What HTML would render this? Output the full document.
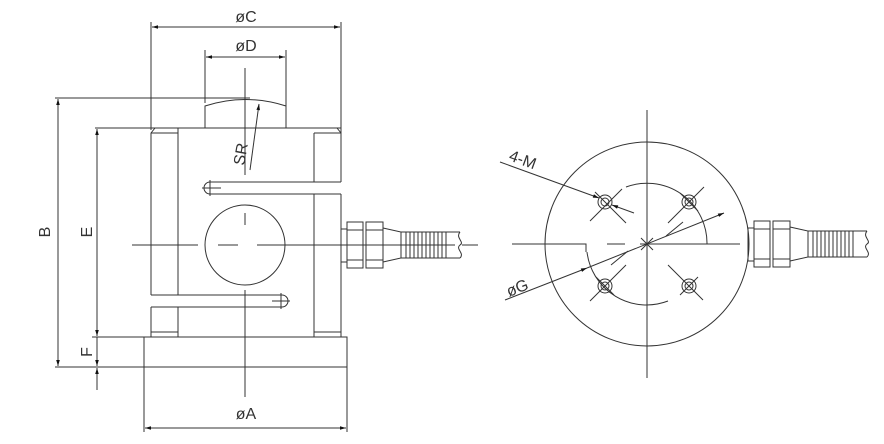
<!DOCTYPE html>
<html><head><meta charset="utf-8"><style>
html,body{margin:0;padding:0;background:#fff;}
svg{display:block}
text{font-family:"Liberation Sans",sans-serif;fill:#333;font-size:16px}
</style></head><body>
<svg width="884" height="444" viewBox="0 0 884 444" xmlns="http://www.w3.org/2000/svg">
<defs>
<marker id="a" viewBox="0 0 10 10" refX="10" refY="5" markerWidth="9" markerHeight="6" orient="auto-start-reverse" markerUnits="userSpaceOnUse"><path d="M0,2 L10,5 L0,8z" fill="#111"/></marker>
<g id="conn" fill="none" stroke="#333" stroke-width="1">
<rect x="0" y="7" width="6" height="33"/>
<rect x="6" y="0" width="16" height="46"/>
<line x1="6" y1="8" x2="22" y2="8"/><line x1="6" y1="38" x2="22" y2="38"/>
<rect x="25" y="0" width="17" height="46"/>
<line x1="25" y1="8" x2="42" y2="8"/><line x1="25" y1="38" x2="42" y2="38"/>
<path d="M42,6 L60,10 L60,36 L42,40"/>
<line x1="60" y1="10" x2="119" y2="10"/><line x1="60" y1="36" x2="119" y2="36"/>
<path d="M65,10V36M69,10V36M73,10V36M77,10V36M81,10V36M85,10V36M89,10V36M93,10V36M97,10V36M101,10V36M105,10V36"/>
<path d="M119,10 C114,16 124,20 119,23 C114,27 124,31 119,36"/>
</g>
</defs>
<g fill="none" stroke="#333" stroke-width="1">
<line x1="151" y1="22" x2="151" y2="130"/><line x1="341" y1="22" x2="341" y2="130"/>
<line x1="152" y1="27" x2="340" y2="27" marker-start="url(#a)" marker-end="url(#a)"/>
<line x1="205" y1="50" x2="205" y2="103"/><line x1="286" y1="50" x2="286" y2="106"/>
<line x1="206" y1="57" x2="285" y2="57" marker-start="url(#a)" marker-end="url(#a)"/>
<path d="M205,128 V106 Q245,93 286,106 V128"/>
<line x1="55" y1="98" x2="250" y2="98"/>
<line x1="95" y1="128" x2="341" y2="128"/>
<path d="M151,337 V307 M151,295 V133 L155,128 M341,128 V182 M341,194 V337"/>
<path d="M178,128 V295 M178,307 V337 M314,133 V182 M314,194 V337"/>
<line x1="151" y1="133" x2="178" y2="133"/><line x1="314" y1="133" x2="341" y2="133"/>
<line x1="337" y1="128" x2="341" y2="133"/>
<path d="M341,182 H210 A6,6 0 0 0 210,194 H341"/>
<path d="M151,295 H282 A6,6 0 0 1 282,307 H151"/>
<line x1="202" y1="188" x2="221" y2="188"/><line x1="210" y1="180" x2="210" y2="196"/>
<line x1="272" y1="301" x2="290" y2="301"/><line x1="281" y1="293" x2="281" y2="309"/>
<line x1="151" y1="332" x2="178" y2="332"/><line x1="314" y1="332" x2="341" y2="332"/>
<rect x="144" y="337" width="203" height="30"/>
<circle cx="245" cy="245" r="40"/>
<line x1="245" y1="68" x2="245" y2="175"/><line x1="245" y1="213" x2="245" y2="225"/><line x1="245" y1="290" x2="245" y2="397"/>
<path d="M132,245 H198 M218,245 H238 M257,245 H455 M462,245 H478"/>
<line x1="58" y1="99" x2="58" y2="366" marker-start="url(#a)" marker-end="url(#a)"/>
<line x1="97" y1="129" x2="97" y2="336" marker-start="url(#a)" marker-end="url(#a)"/>
<line x1="92" y1="337" x2="144" y2="337"/><line x1="55" y1="367" x2="144" y2="367"/>
<line x1="97" y1="337" x2="97" y2="366" marker-end="url(#a)"/>
<line x1="97" y1="390" x2="97" y2="368" marker-end="url(#a)"/>
<line x1="144" y1="367" x2="144" y2="432"/><line x1="347" y1="367" x2="347" y2="432"/>
<line x1="145" y1="428" x2="346" y2="428" marker-start="url(#a)" marker-end="url(#a)"/>
<line x1="250" y1="170" x2="259" y2="104" marker-end="url(#a)"/>
<use href="#conn" x="341" y="222"/>
<circle cx="647" cy="244" r="102"/>
<line x1="647" y1="110" x2="647" y2="378"/>
<path d="M512,244 H586 V252 M607,244 H625 M640,244 H740"/>
<path d="M626,187 A60,60 0 0 1 707,244"/>
<path d="M668,301 A60,60 0 0 1 587,252"/>
<path d="M611,265 L628,251 M666,236 L683,222"/>
<circle cx="605" cy="202" r="7"/><circle cx="605" cy="202" r="4"/><line x1="595" y1="192" x2="626" y2="223"/><line x1="590" y1="221" x2="622" y2="189"/>
<circle cx="689" cy="202" r="7"/><circle cx="689" cy="202" r="4"/><line x1="668" y1="223" x2="704" y2="187"/><line x1="680" y1="193" x2="698" y2="211"/>
<circle cx="605" cy="286" r="7"/><circle cx="605" cy="286" r="4"/><line x1="590" y1="301" x2="626" y2="265"/><line x1="596" y1="277" x2="614" y2="295"/>
<circle cx="689" cy="286" r="7"/><circle cx="689" cy="286" r="4"/><line x1="668" y1="265" x2="703" y2="300"/><line x1="680" y1="295" x2="698" y2="277"/>
<line x1="500" y1="162" x2="599" y2="198" marker-end="url(#a)"/>
<line x1="634" y1="213" x2="612" y2="205" marker-end="url(#a)"/>
<line x1="505" y1="300" x2="587" y2="268" marker-end="url(#a)"/>
<line x1="587" y1="268" x2="724" y2="213" marker-end="url(#a)"/>
<path d="M641,238 L653,250 M653,238 L641,250 M647,236 V252"/>
<use href="#conn" x="748" y="221"/>
</g>
<text x="246" y="22" text-anchor="middle">øC</text>
<text x="246" y="51" text-anchor="middle">øD</text>
<text x="246" y="419" text-anchor="middle">øA</text>
<text transform="translate(50,232) rotate(-90)" text-anchor="middle">B</text>
<text transform="translate(92,232) rotate(-90)" text-anchor="middle">E</text>
<text transform="translate(92,352) rotate(-90)" text-anchor="middle">F</text>
<text transform="translate(246,155) rotate(-80)" text-anchor="middle">SR</text>
<text transform="translate(508,160) rotate(20)">4-M</text>
<text transform="translate(509,297) rotate(-22)">øG</text>
</svg>
</body></html>
